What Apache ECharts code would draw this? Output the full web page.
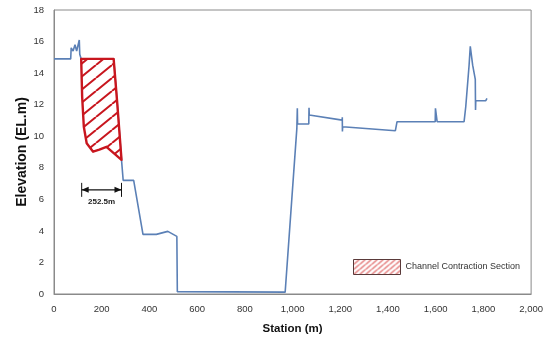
<!DOCTYPE html>
<html>
<head>
<meta charset="utf-8">
<script src="https://cdn.jsdelivr.net/npm/echarts@6/dist/echarts.min.js"></script>
<style>
html,body{margin:0;padding:0;background:#fff;}
#chart{width:546px;height:342px;}
</style>
</head>
<body>
<div id="chart"></div>
<script>
// Ground profile
const stations = [0, 70, 72, 80, 88, 95, 106, 108, 114, 250, 264, 283, 290, 334, 373, 429, 477, 515, 517, 969, 1018, 1020, 1021, 1068, 1069, 1070, 1208, 1208.5, 1209, 1210, 1431, 1438, 1598, 1599, 1605, 1606, 1719, 1726, 1733, 1740, 1745, 1749, 1755, 1766, 1767, 1768, 1810, 1815];
const elevations = [14.9, 14.9, 15.6, 15.4, 15.8, 15.4, 16.1, 15.2, 14.9, 14.9, 12.3, 8.5, 7.2, 7.2, 3.78, 3.78, 3.97, 3.65, 0.15, 0.12, 10.5, 11.77, 10.77, 10.77, 11.8, 11.34, 11.02, 11.2, 10.3, 10.6, 10.35, 10.92, 10.92, 11.77, 11.77, 10.92, 10.92, 11.87, 11.87, 14.5, 15.7, 15.7, 14.5, 13.6, 11.66, 12.25, 12.25, 12.4];

// Channel contraction section polygon
const polyStations = [114, 250, 264, 283, 220, 190, 164, 137, 125, 118];
const polyElev = [14.9, 14.9, 12.3, 8.5, 9.33, 9.15, 9.02, 9.55, 10.6, 12.5];

// Dimension annotation
const dimStations = [116, 283];
const dimElev = 6.6;
const dimLabel = '252.5m';
const dimLabelElev = 5.85;

// Axes
const xMin = 0, xMax = 2000, xStep = 200;
const yMin = 0, yMax = 18, yStep = 2;
const xName = 'Station (m)';
const yName = 'Elevation (EL.m)';
const seriesName = 'Channel Contraction Section';

function hatch(w, h, bg, color, lw) {
  const c = document.createElement('canvas');
  c.width = w; c.height = h;
  const g = c.getContext('2d');
  g.fillStyle = bg; g.fillRect(0, 0, w, h);
  g.strokeStyle = color; g.lineWidth = lw;
  g.beginPath();
  for (const dx of [-w, 0, w]) { g.moveTo(dx, h); g.lineTo(dx + w, 0); }
  g.stroke();
  return c;
}
const red = '#c8161e';
const bigHatch = { image: hatch(16, 13, '#ffffff', red, 2), repeat: 'repeat' };
const smallHatch = { image: hatch(6, 5, '#ffffff', '#e06a6a', 1.3), repeat: 'repeat' };

const profile = stations.map((s, i) => [s, elevations[i]]);

const chart = echarts.init(document.getElementById('chart'), null, { renderer: 'canvas' });
chart.setOption({
  animation: false,
  backgroundColor: '#fff',
  textStyle: { fontFamily: 'Liberation Sans, Arial, sans-serif' },
  grid: { left: 54, right: 13, top: 10, bottom: 48, show: true, borderColor: '#8a8a8a', borderWidth: 1, backgroundColor: '#fff' },
  legend: {
    left: 353, top: 259, padding: 0,
    itemWidth: 47, itemHeight: 15, itemGap: 5,
    textStyle: { fontSize: 9, color: '#333', fontFamily: 'Liberation Sans, Arial, sans-serif', padding: [0, 0, 0, 0] },
    data: [{ name: seriesName, icon: 'rect', itemStyle: { color: smallHatch, borderColor: '#5a3a3a', borderWidth: 1 } }]
  },
  xAxis: {
    type: 'value', min: xMin, max: xMax, interval: xStep,
    name: xName, nameLocation: 'middle', nameGap: 29, nameMoveOverlap: false,
    nameTextStyle: { fontSize: 11.5, fontWeight: 'bold', color: '#111' },
    axisLine: { show: true, lineStyle: { color: '#8a8a8a' } },
    axisTick: { show: false },
    splitLine: { show: false },
    axisLabel: { fontSize: 9.5, color: '#333', margin: 10, formatter: v => v.toLocaleString('en-US') }
  },
  yAxis: {
    type: 'value', min: yMin, max: yMax, interval: yStep,
    name: yName, nameLocation: 'middle', nameGap: 25, nameRotate: 90, nameMoveOverlap: false,
    nameTextStyle: { fontSize: 14, fontWeight: 'bold', color: '#111' },
    axisLine: { show: true, lineStyle: { color: '#8a8a8a' } },
    axisTick: { show: false },
    splitLine: { show: false },
    axisLabel: { fontSize: 9.5, color: '#333', margin: 10 }
  },
  series: [
    {
      type: 'line', name: 'profile', data: profile, showSymbol: false, symbol: 'none',
      lineStyle: { color: '#5b80b6', width: 1.6 }, z: 2
    },
    {
      type: 'custom', name: seriesName, z: 3,
      itemStyle: { color: bigHatch },
      data: [[polyStations[0], polyElev[0]]],
      renderItem: function (params, api) {
        const pts = polyStations.map((s, i) => api.coord([s, polyElev[i]]));
        return {
          type: 'polygon',
          shape: { points: pts },
          style: { fill: bigHatch, stroke: red, lineWidth: 2.4, lineJoin: 'round' }
        };
      }
    },
    {
      type: 'custom', name: 'dimension', z: 4,
      data: [[dimStations[0], dimElev]],
      renderItem: function (params, api) {
        const a = api.coord([dimStations[0], dimElev]);
        const b = api.coord([dimStations[1], dimElev]);
        const t = api.coord([(dimStations[0] + dimStations[1]) / 2, dimLabelElev]);
        const col = '#111';
        return {
          type: 'group',
          children: [
            { type: 'line', shape: { x1: a[0], y1: a[1], x2: b[0], y2: b[1] }, style: { stroke: col, lineWidth: 1.2 } },
            { type: 'line', shape: { x1: a[0], y1: a[1] - 7, x2: a[0], y2: a[1] + 7 }, style: { stroke: col, lineWidth: 1 } },
            { type: 'line', shape: { x1: b[0], y1: b[1] - 7, x2: b[0], y2: b[1] + 7 }, style: { stroke: col, lineWidth: 1 } },
            { type: 'polygon', shape: { points: [[a[0], a[1]], [a[0] + 7, a[1] - 3], [a[0] + 7, a[1] + 3]] }, style: { fill: col } },
            { type: 'polygon', shape: { points: [[b[0], b[1]], [b[0] - 7, b[1] - 3], [b[0] - 7, b[1] + 3]] }, style: { fill: col } },
            { type: 'text', x: t[0], y: t[1], style: { text: dimLabel, fill: '#222', fontSize: 8, fontWeight: 'bold', fontFamily: 'Liberation Sans, Arial, sans-serif', align: 'center', verticalAlign: 'middle' } }
          ]
        };
      }
    }
  ]
});
</script>
</body>
</html>
